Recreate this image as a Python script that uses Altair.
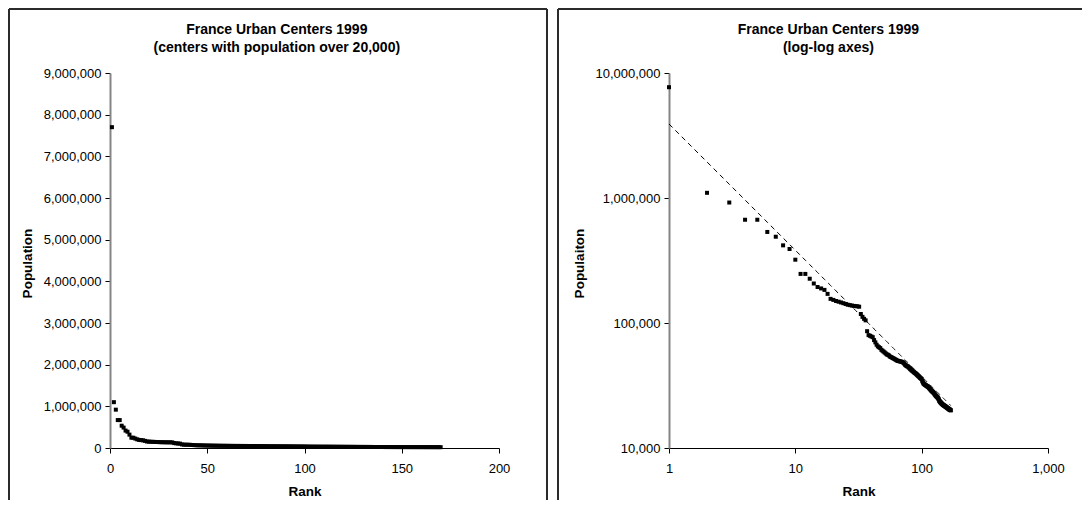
import altair as alt
import pandas as pd

ranks = list(range(1, 171))
populations = [
    7700000, 1100000, 920000, 670000, 670000, 535000, 490000, 418000, 391000, 321000,
    247000, 247000, 226000, 207000, 194000, 189000, 184000, 171000, 156000, 153000,
    150000, 148000, 146000, 144000, 142000, 140000, 139000, 138000, 137000, 136500,
    136000, 135000, 118000, 112000, 108000, 105000, 86000, 80000, 79000, 78000,
    77000, 73000, 70000, 67000, 65000, 64000, 63000, 61000, 60000, 59000,
    58000, 57000, 56000, 55700, 55000, 54000, 53500, 53000, 52500, 52000,
    51500, 51000, 50500, 50000, 49800, 49600, 49400, 49200, 49000, 48800,
    48500, 48000, 47200, 46300, 45800, 45400, 45000, 44800, 44200, 43600,
    43000, 42500, 42000, 41600, 41200, 40800, 40400, 40000, 39700, 39300,
    38900, 38500, 38100, 37700, 37300, 36900, 36500, 36200, 35900, 35600,
    34500, 33800, 33000, 32700, 32400, 32100, 31900, 31700, 31500, 31300,
    31100, 31000, 30700, 30400, 30100, 29800, 29500, 29200, 28900, 28600,
    28400, 28200, 28000, 27800, 27500, 27200, 26900, 26600, 26300, 26100,
    25900, 25700, 25500, 25300, 25000, 24700, 24300, 23800, 23600, 23400,
    23200, 23000, 22800, 22700, 22500, 22400, 22200, 22100, 22000, 21900,
    21800, 21700, 21600, 21500, 21400, 21300, 21200, 21100, 21000, 20900,
    20800, 20700, 20600, 20500, 20400, 20300, 20250, 20200, 20100, 20000,
]

# Power trend line as shown in the picture: population = a * rank^b
trend_a = 3910000
trend_b = -1.01

lin_x_ticks = [0, 50, 100, 150, 200]
lin_y_ticks = [0, 1000000, 2000000, 3000000, 4000000, 5000000,
               6000000, 7000000, 8000000, 9000000]
log_x_ticks = [1, 10, 100, 1000]
log_y_ticks = [10000, 100000, 1000000, 10000000]

title_left = ["France Urban Centers 1999", "(centers with population over 20,000)"]
title_right = ["France Urban Centers 1999", "(log-log axes)"]

df = pd.DataFrame({"Rank": ranks, "Population": populations})

FONT = "Liberation Sans"
BORDER = "#2b2b2b"
H = 375


def x_axis(values):
    return alt.Axis(values=values, format=",.0f", grid=False, labelFont=FONT,
                    labelFontSize=13, labelColor="black", labelFlush=False,
                    labelPadding=9, tickSize=5, tickColor="black",
                    domainColor="black", domainWidth=1, title="Rank",
                    titleFont=FONT, titleFontSize=13.5, titleFontWeight="bold",
                    titleColor="black", titleY=47, titleBaseline="alphabetic")


def y_axis(values, title, tx):
    return alt.Axis(values=values, format=",.0f", grid=False, labelFont=FONT,
                    labelFontSize=13, labelColor="black", labelPadding=4,
                    tickSize=5, tickColor="black", domainColor="#858585",
                    domainWidth=2, title=title, titleFont=FONT,
                    titleFontSize=13.5, titleFontWeight="bold",
                    titleColor="black", titleX=tx, titleY=190,
                    titleAngle=-90, titleBaseline="middle", titleAlign="center")


def decor(title_lines, cx, left, right, draw_right):
    one = alt.Data(values=[{}])
    layers = []
    layers.append(alt.Chart(one).mark_rule(color=BORDER, strokeWidth=2).encode(
        x=alt.value(left), x2=alt.value(right), y=alt.value(-64)))
    layers.append(alt.Chart(one).mark_rule(color=BORDER, strokeWidth=2).encode(
        x=alt.value(left), y=alt.value(-64), y2=alt.value(427)))
    if draw_right:
        layers.append(alt.Chart(one).mark_rule(color=BORDER, strokeWidth=2).encode(
            x=alt.value(right), y=alt.value(-64), y2=alt.value(427)))
    for i, line in enumerate(title_lines):
        layers.append(alt.Chart(one).mark_text(
            font=FONT, fontSize=14, fontWeight="bold", color="black",
            align="center", baseline="alphabetic").encode(
            x=alt.value(cx), y=alt.value(-39 + 18 * i), text=alt.value(line)))
    return layers


# Left: linear axes
left_pts = alt.Chart(df).mark_square(size=16, color="black", opacity=1).encode(
    x=alt.X("Rank:Q", scale=alt.Scale(domain=[0, 200], nice=False, zero=True),
            axis=x_axis(lin_x_ticks)),
    y=alt.Y("Population:Q", scale=alt.Scale(domain=[0, 9000000], nice=False),
            axis=y_axis(lin_y_ticks, "Population", -83)),
)
left = alt.layer(left_pts, *decor(title_left, 166.8, -101, 437, True)).properties(
    width=389, height=H)

# Right: log-log axes with power trend line
xs = alt.Scale(type="log", domain=[1, 1000], nice=False)
ys = alt.Scale(type="log", domain=[10000, 10000000], nice=False)
right_pts = alt.Chart(df).mark_square(size=16, color="black", opacity=1).encode(
    x=alt.X("Rank:Q", scale=xs, axis=x_axis(log_x_ticks)),
    y=alt.Y("Population:Q", scale=ys, axis=y_axis(log_y_ticks, "Populaiton", -90)),
)
trend = alt.Chart(df).transform_calculate(
    Trend=f"{trend_a} * pow(datum.Rank, {trend_b})").mark_line(
    color="black", strokeWidth=1, strokeDash=[5, 4]).encode(
    x=alt.X("Rank:Q", scale=xs), y=alt.Y("Trend:Q", scale=ys))
right = alt.layer(right_pts, trend, *decor(title_right, 159.4, -111, 413, False)).properties(
    width=379, height=H)

chart = alt.hconcat(left, right, spacing=170, bounds="flush").properties(
    padding=0, background="white").configure_view(stroke=None)

chart.save("out.html", embed_options={"renderer": "svg", "actions": False})
